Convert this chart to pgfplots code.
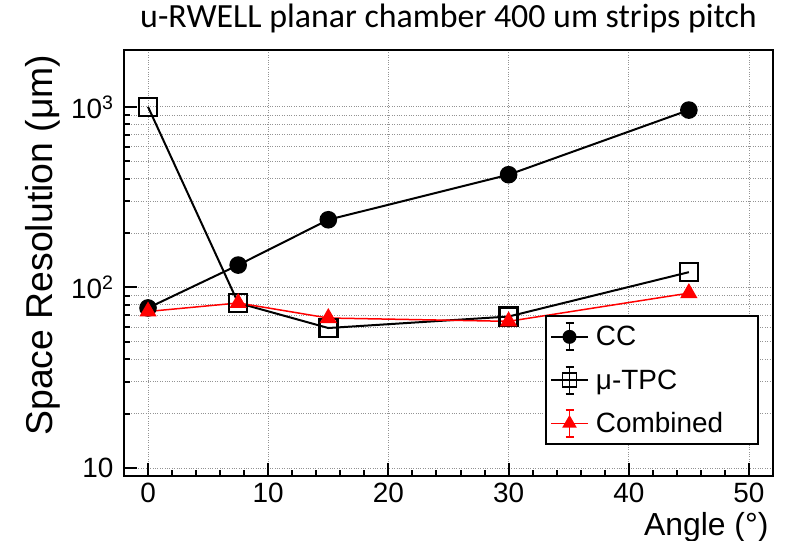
\documentclass[border=0pt]{standalone}
\usepackage{fontspec}
\setmainfont{Liberation Sans}
\newfontfamily\titlefont{Carlito}
\usepackage{pgfplots}
\pgfplotsset{compat=1.18}
\pgfplotstableread{
x y
0 77
7.5 133
15 237
30 421
45 960
}\cc
\pgfplotstableread{
x y
0 1000
7.5 82
15 59.6
30 69
45 121.5
}\tpc
\pgfplotstableread{
x y
0 73.6
7.5 82
15 67.7
30 64.9
45 93
}\comb
\begin{document}
\begin{tikzpicture}
\begin{axis}[
  name=ax,
  scale only axis,
  width=649bp, height=426bp,
  xmin=-2, xmax=52,
  ymode=log, ymin=9.03, ymax=2065,
  xtick={0,10,20,30,40,50},
  minor x tick num=4,
  ytick={10,100,1000},
  yticklabels={10,10\textsuperscript{2},10\textsuperscript{3}},
  minor ytick={20,30,40,50,60,70,80,90,200,300,400,500,600,700,800,900},
  tick pos=left,
  tick align=inside,
  major tick length=13bp, minor tick length=6bp,
  every tick/.style={black, line width=2bp},
  axis line style={line width=2.5bp},
  xmajorgrids, ymajorgrids, yminorgrids,
  grid style={gray!85, dotted, line width=0.9bp},
  /pgf/number format/assume math mode=true,
  ticklabel style={font=\fontsize{28}{32}\selectfont},
  xticklabel style={yshift=-4bp},
  yticklabel style={xshift=-7bp},
  ylabel={Space Resolution (μm)},
  ylabel style={at={(axis description cs:-0.1094,0.542)}, anchor=base, font=\fontsize{37.5}{42}\selectfont},
  xlabel={Angle (°)},
  xlabel style={at={(axis description cs:0.9985,-0.1385)}, anchor=base east, font=\fontsize{32}{36}\selectfont},
  title={u-RWELL planar chamber 400 um strips pitch},
  title style={at={(axis description cs:0.5,1)}, anchor=base, yshift=17bp, font=\titlefont\fontsize{34}{40}\selectfont},
  legend style={at={(axis description cs:0.6487,0.378)}, anchor=north west, draw=black, line width=2bp, fill=white,
    inner xsep=4bp, inner ysep=6.5bp, row sep=14.5bp, column sep=5bp, font=\fontsize{28}{32}\selectfont},
  legend cell align=left,
  legend image code/.code={
    \draw[mark=none,#1] (0bp,0bp) -- (37bp,0bp);
    \draw[mark=none,#1,line width=1.8bp] (18.5bp,-13.5bp) -- (18.5bp,13.5bp)
       (14.5bp,-13.5bp) -- (22.5bp,-13.5bp) (14.5bp,13.5bp) -- (22.5bp,13.5bp);
    \draw[#1] plot coordinates {(18.5bp,0bp)};
  },
]
\addplot[black, line width=2bp, mark=*, mark size=7.8bp, mark options={solid, fill=black},
  legend image post style={mark size=6bp}] table {\cc};
\addlegendentry{\makebox[156bp][l]{CC}}
\addplot[black, line width=2bp, mark=square, mark size=9bp, mark options={solid, fill=white, line width=2.5bp},
  legend image post style={mark size=7bp, mark options={solid, fill=white, line width=1.5bp}}] table {\tpc};
\addlegendentry{\makebox[156bp][l]{μ-TPC}}
\addplot[red, line width=1.5bp, mark=triangle*, mark size=8.5bp, mark options={solid, fill=red},
  legend image post style={mark size=7bp}] table {\comb};
\addlegendentry{\makebox[156bp][l]{Combined}}
\end{axis}
\pgfresetboundingbox
\path[use as bounding box] (ax.south west) ++(-124bp,-65bp) rectangle ++(794bp,541bp);
\end{tikzpicture}
\end{document}
